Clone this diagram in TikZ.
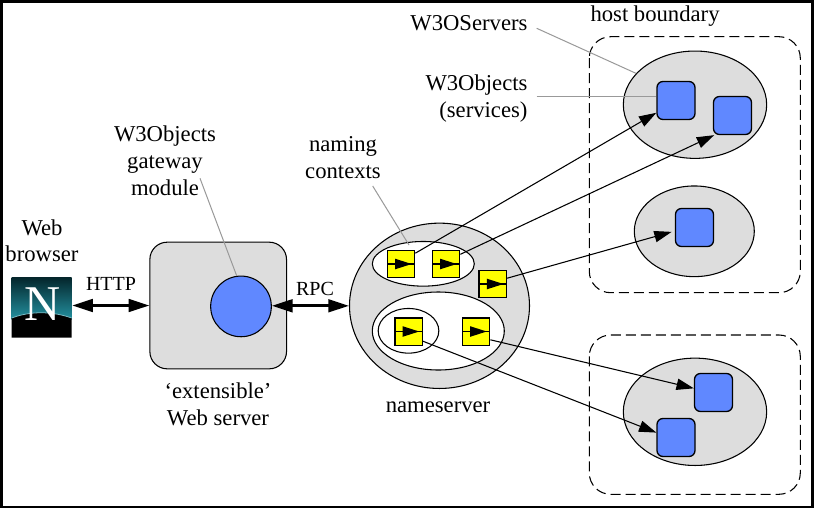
\documentclass[tikz,border=0pt]{standalone}
\usepackage{fontspec}
\setmainfont{Liberation Serif}
\usetikzlibrary{arrows.meta,shapes.geometric}
\definecolor{blobgray}{HTML}{DDDDDD}
\definecolor{objblue}{HTML}{6088FF}
\definecolor{leadgray}{HTML}{999999}
\definecolor{slotyellow}{HTML}{FFFF00}
\definecolor{logodark}{HTML}{04262C}
\definecolor{logoteal}{HTML}{23909F}

\begin{document}
\begin{tikzpicture}[
    x=0.75pt, y=-0.75pt,
    line width=0.8pt,
    every node/.style={font={\fontsize{17}{20}\selectfont}},
    label/.style={inner sep=0pt, align=center, anchor=base},
    small/.style={font={\fontsize{15}{18}\selectfont}},
    blob/.style={ellipse, draw, fill=blobgray, inner sep=0pt},
    ctx/.style={ellipse, draw, fill=white, inner sep=0pt},
    obj/.style={draw, fill=objblue, rounded corners=4.5pt, minimum size=28.5pt, inner sep=0pt, line width=1pt},
    slot/.style={draw, fill=slotyellow, minimum size=20.5pt, inner sep=0pt, line width=1pt,
        path picture={
            \draw[black, line width=0.8pt] (path picture bounding box.west) -- (path picture bounding box.east);
            \fill[black] ([xshift=-4.5pt]path picture bounding box.center) -- ++(0pt,4pt) -- ++(12.5pt,-4pt) -- ++(-12.5pt,-4pt) -- cycle;
        }},
    host/.style={dashed, dash pattern=on 7.5pt off 3.75pt, rounded corners=16pt},
    lead/.style={leadgray, line width=0.75pt},
    bind/.style={-{Triangle[length=13pt,width=8.5pt]}},
    proto/.style={line width=2pt, {Triangle[length=15.5pt,width=9.5pt]}-{Triangle[length=15.5pt,width=9.5pt]}}
]

    % Frame
    \fill (0,0) rectangle (814,508);
    \fill[white] (2.5,3) rectangle (811,506);

    % Netscape logo
    \shade[top color=logodark, bottom color=logoteal] (11.7,277.5) rectangle (71.7,319);
    \fill[black] (11.7,318) .. controls (30,311) and (52,311) .. (71.7,318) -- (71.7,337.5) -- (11.7,337.5) -- cycle;
    \draw[logoteal!60!white, line width=0.6pt] (11.7,318) .. controls (30,311) and (52,311) .. (71.7,318);
    \node (logo) [minimum size=45pt, inner sep=0pt] at (41.7,307.5) {};
    \node (letter) [white, inner sep=0pt, anchor=base, font={\fontsize{37.5}{40}\selectfont}] at (42.5,320) {N};

    % Web server and gateway module
    \node (websrv) [draw, fill=blobgray, rounded corners=13pt, minimum width=102.5pt, minimum height=95pt, inner sep=0pt] at (218.2,305.5) {};
    \node (gwmod) [circle, draw, fill=objblue, minimum size=45.5pt, inner sep=0pt] at (241,306.4) {};

    % Nameserver
    \node (nsrv) [blob, minimum width=135pt, minimum height=124pt] at (439.5,305.8) {};
    \node (ctxa) [ctx, minimum width=76.5pt, minimum height=33.5pt] at (423.3,263.8) {};
    \node (ctxb) [ctx, minimum width=99pt, minimum height=58.5pt] at (438.3,331) {};
    \node (ctxc) [ctx, minimum width=45.5pt, minimum height=33.5pt] at (408.5,330.8) {};
    \node (slota) [slot] at (401,264) {};
    \node (slotb) [slot] at (446,264) {};
    \node (slotc) [slot] at (492.8,284) {};
    \node (slotd) [slot] at (408.5,331.5) {};
    \node (slote) [slot] at (476,331.5) {};

    % Hosts
    \draw[host] (589.3,36.7) rectangle (800.3,292.7);
    \draw[host] (589.3,335) rectangle (800.3,494.3);
    \node (srva) [blob, minimum width=107.5pt, minimum height=80.5pt] at (695,104.7) {};
    \node (srvb) [blob, minimum width=90pt, minimum height=68pt] at (694.3,231.3) {};
    \node (srvc) [blob, minimum width=107.5pt, minimum height=80.5pt] at (695,411.8) {};
    \node (obja) [obj] at (676,100.5) {};
    \node (objb) [obj] at (732.5,115.5) {};
    \node (objc) [obj] at (694.5,227.5) {};
    \node (objd) [obj] at (713.5,392.5) {};
    \node (obje) [obj] at (676,437.5) {};

    % Bindings
    \draw[bind] (slota.37) -- (obja.212);
    \draw[bind] (slotb.34) -- (objb.227);
    \draw[bind, shorten >=2.5pt] (slotc.22) -- (objc.190);
    \draw[bind] (slote.-30) -- (objd.168);
    \draw[bind] (slotd.-34) -- (obje.166);

    % HTTP and RPC
    \draw[proto] (logo.east |- websrv.west) -- (websrv.west);
    \draw[proto] (gwmod.east |- nsrv.west) -- (nsrv.west);

    % Leaders
    \coordinate (gwfrom) at (200,178.3);
    \coordinate (ctxfrom) at (372.7,186);
    \coordinate (ctxto) at (409,245);
    \coordinate (srvfrom) at (536.7,28.3);
    \coordinate (objfrom) at (536.7,96.7);
    \draw[lead] (gwfrom) -- (gwmod.98);
    \draw[lead] (ctxfrom) -- (ctxto);
    \draw[lead] (srvfrom) -- (srva.152);
    \draw[lead] (objfrom) -- (obja.west |- objfrom);

    % Labels
    \node (lblgw) [label] at (165,195) {W3Objects\\gateway\\module};
    \node (lblweb) [label] at (42,261.7) {Web\\browser};
    \node (lblhttp) [label, small] at (111,290.7) {HTTP};
    \node (lblrpc) [label, small] at (315,295) {RPC};
    \node (lblext) [label] at (218,425) {‘extensible’\\Web server};
    \node (lblns) [label] at (438,412.7) {nameserver};
    \node (lblsrv) [label, anchor=base east] at (528,30) {W3OServers};
    \node (lblobj) [label, anchor=base east, align=right] at (528,117.3) {W3Objects\\(services)};
    \node (lblctx) [label] at (343,178.3) {naming\\contexts};
    \node (lblhost) [label, anchor=base west] at (590,21.7) {host boundary};

\end{tikzpicture}
\end{document}
